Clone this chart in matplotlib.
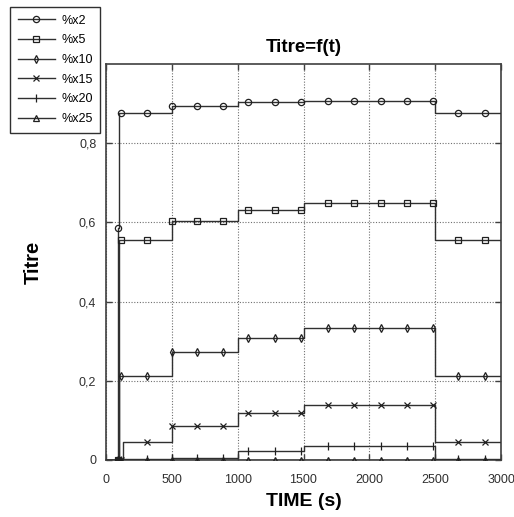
import numpy as np
import matplotlib
matplotlib.use("Agg")
import matplotlib.pyplot as plt

plt.rcParams['font.family'] = ['Liberation Sans', 'DejaVu Sans']

# ---- data ----
t_change = [0, 91, 100, 130, 500, 1000, 1500, 2500, 3000]
x2  = [0, 0.587, 0.877, 0.877, 0.893, 0.903, 0.907, 0.877, 0.877]
x5  = [0, 0.0, 0.555, 0.555, 0.603, 0.631, 0.648, 0.555, 0.555]
x10 = [0, 0.0, 0.213, 0.213, 0.272, 0.308, 0.333, 0.213, 0.213]
x15 = [0, 0.0, 0.0, 0.046, 0.087, 0.119, 0.139, 0.046, 0.046]
x20 = [0, 0.0, 0.0, 0.002, 0.006, 0.023, 0.035, 0.002, 0.002]
x25 = [0, 0.0, 0.0, 0.0, 0.0, 0.0, 0.0, 0.0, 0.0]
t_mark = [91, 114, 310, 500, 690, 890, 1080, 1280, 1480, 1685, 1885,
          2085, 2285, 2480, 2675, 2880]
labels = ['%x2', '%x5', '%x10', '%x15', '%x20', '%x25']
series = [x2, x5, x10, x15, x20, x25]
markers = ['o', 's', 'd', 'x', '|', '^']
msizes = [4.5, 4.5, 3.8, 5.0, 6.0, 4.5]

xticks = [0, 500, 1000, 1500, 2000, 2500, 3000]
yticks = [0, 0.2, 0.4, 0.6, 0.8]
ytick_labels = ['0', '0,2', '0,4', '0,6', '0,8']

fig = plt.figure(figsize=(5.14, 5.17), dpi=100)
ax = fig.add_axes([106/514, 57/517, 395/514, 396/517])

tc = np.array(t_change)
tm = np.array(t_mark)
idx = np.searchsorted(tc, tm, side='right') - 1
handles = []
for lab, vals, mk, ms in zip(labels, series, markers, msizes):
    v = np.array(vals)
    ax.plot(tc, v, drawstyle='steps-post', color='#303030', lw=1.0, zorder=3)
    ax.plot(tm, v[idx], linestyle='none', marker=mk, ms=ms, mfc='none',
            mec='#202020', mew=0.9, zorder=4)
    h, = ax.plot([], [], color='#303030', lw=1.0, marker=mk, ms=ms,
                 mfc='none', mec='#202020', mew=0.9, label=lab)
    handles.append(h)

ax.set_xlim(0, 3000)
ax.set_ylim(0, 1.0)
ax.set_xticks(xticks)
ax.set_xticklabels([str(x) for x in xticks])
ax.set_yticks(yticks)
ax.set_yticklabels(ytick_labels)
ax.tick_params(direction='in', length=4, width=1, color='#404040',
               labelsize=9, labelcolor='#303030', top=True, right=True)
ax.tick_params(axis='x', pad=10)
ax.tick_params(axis='y', pad=7)
ax.grid(True, linestyle=(0, (1, 1.5)), color='#707070', lw=0.8)
for s in ax.spines.values():
    s.set_color('#404040')
    s.set_linewidth(1.2)

ax.set_title('Titre=f(t)', fontsize=13.5, fontweight='bold', pad=9)
ax.set_xlabel('TIME (s)', fontsize=14, fontweight='bold', labelpad=5)
ax.set_ylabel('Titre', fontsize=14.5, fontweight='bold', labelpad=26)

leg = fig.legend(handles=handles, loc='upper left',
                 bbox_to_anchor=(10/514, 1 - 7/517), fontsize=9,
                 frameon=True, fancybox=False, framealpha=1,
                 edgecolor='#303030', handlelength=3.0, handletextpad=0.5,
                 labelspacing=0.62, borderpad=0.6, borderaxespad=0)
leg.get_frame().set_linewidth(1.0)

fig.savefig('out.png', dpi=100)
